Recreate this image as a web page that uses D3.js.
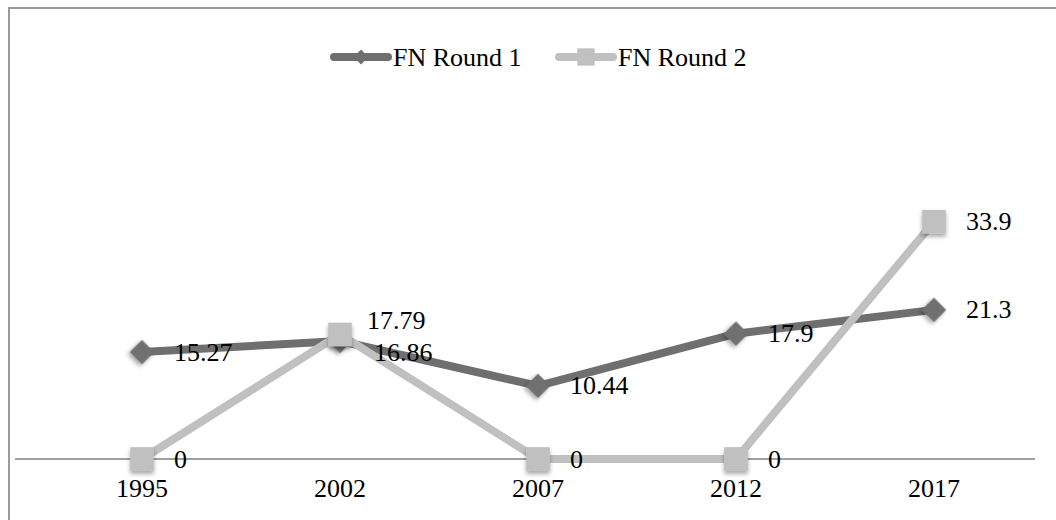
<!DOCTYPE html>
<html>
<head>
<meta charset="utf-8">
<script src="https://cdn.jsdelivr.net/npm/d3@7"></script>
<style>
  body { margin: 0; background: #fff; }
  svg { display: block; font-family: "Liberation Serif", "DejaVu Serif", serif; }
</style>
</head>
<body>
<svg width="1056" height="520"></svg>
<script>
// chart data
var years = ["1995", "2002", "2007", "2012", "2017"];
var round1 = [15.27, 16.86, 10.44, 17.9, 21.3];
var round2 = [0, 17.79, 0, 0, 33.9];
var seriesNames = ["FN Round 1", "FN Round 2"];

var fontSize = 26;
var labelGap = 32;

var svg = d3.select("svg");

// drop shadow for the markers
var defs = svg.append("defs");
var f = defs.append("filter").attr("id", "shadow")
	.attr("x", "-50%").attr("y", "-50%").attr("width", "200%").attr("height", "200%");
f.append("feDropShadow")
	.attr("dx", 0).attr("dy", 3).attr("stdDeviation", 2)
	.attr("flood-color", "#000").attr("flood-opacity", 0.35);

// chart frame (only top and left edges are in view)
svg.append("rect")
	.attr("x", 9).attr("y", 8)
	.attr("width", 1100).attr("height", 600)
	.attr("fill", "none")
	.attr("stroke", "#9a9a9a")
	.attr("stroke-width", 2);

var x = d3.scaleBand()
	.domain(years)
	.range([43, 1033]);

var y = d3.scaleLinear()
	.domain([0, 40])
	.range([459, 179]);

// horizontal axis line
svg.append("line")
	.attr("x1", 15).attr("x2", 1035)
	.attr("y1", y(0)).attr("y2", y(0))
	.attr("stroke", "#a0a0a0")
	.attr("stroke-width", 2);

// category labels
var xAxis = d3.axisBottom(x).tickSize(0).tickPadding(0);
var gx = svg.append("g")
	.attr("transform", "translate(0," + y(0) + ")")
	.call(xAxis);
gx.select(".domain").remove();
gx.selectAll("text")
	.attr("y", 38)
	.attr("dy", 0)
	.attr("fill", "#000")
	.style("font-family", "Liberation Serif, serif")
	.style("font-size", fontSize + "px");

var series = [
	{ name: seriesNames[0], values: round1, color: "#6f6f6f", marker: "diamond" },
	{ name: seriesNames[1], values: round2, color: "#c0c0c0", marker: "square" }
];

// manual nudges for the two labels that overlap at 2002
var labelNudge = {
	"0-1": { dx: 34, dy: 12 },
	"1-1": { dx: 27, dy: -14 }
};

var line = d3.line()
	.x(function(d, i) { return x(years[i]) + x.bandwidth() / 2; })
	.y(function(d) { return y(d); });

// diamond = rotated square
function markerPath(type, big) {
	if (type == "diamond")
		return d3.symbol().type(d3.symbolSquare).size(big ? 300 : 110)();
	return d3.symbol().type(d3.symbolSquare).size(big ? 560 : 300)();
}

series.forEach(function(s, si) {
	var g = svg.append("g");

	g.append("path")
		.datum(s.values)
		.attr("d", line)
		.attr("fill", "none")
		.attr("stroke", s.color)
		.attr("stroke-width", 8)
		.attr("stroke-linejoin", "round");

	g.selectAll(".marker")
		.data(s.values)
		.enter().append("path")
		.attr("class", "marker")
		.attr("d", markerPath(s.marker, true))
		.attr("transform", function(d, i) {
			var r = s.marker == "diamond" ? "rotate(45)" : "";
			return "translate(" + (x(years[i]) + x.bandwidth() / 2) + "," + y(d) + ")" + r;
		})
		.attr("fill", s.color)
		.attr("filter", "url(#shadow)");
});

// data labels drawn on top of everything
series.forEach(function(s, si) {
	svg.append("g").selectAll("text")
		.data(s.values)
		.enter().append("text")
		.attr("x", function(d, i) {
			var n = labelNudge[si + "-" + i];
			return x(years[i]) + x.bandwidth() / 2 + (n ? n.dx : labelGap);
		})
		.attr("y", function(d, i) {
			var n = labelNudge[si + "-" + i];
			return y(d) + (n ? n.dy : 0);
		})
		.attr("dominant-baseline", "central")
		.style("font-size", fontSize + "px")
		.attr("fill", "#000")
		.text(function(d) { return d; });
});

// legend
var legend = svg.append("g").attr("transform", "translate(0,57)");
var legendX = [330, 555];
series.forEach(function(s, i) {
	var lg = legend.append("g").attr("transform", "translate(" + legendX[i] + ",0)");
	lg.append("line")
		.attr("x1", 4).attr("x2", 58)
		.attr("stroke", s.color)
		.attr("stroke-width", 8)
		.attr("stroke-linecap", "round");
	lg.append("path")
		.attr("d", markerPath(s.marker, false))
		.attr("transform", "translate(31,0)" + (s.marker == "diamond" ? "rotate(45)" : ""))
		.attr("fill", s.color);
	lg.append("text")
		.attr("x", 63)
		.attr("dominant-baseline", "central")
		.style("font-size", fontSize + "px")
		.attr("fill", "#000")
		.text(s.name);
});
</script>
</body>
</html>
